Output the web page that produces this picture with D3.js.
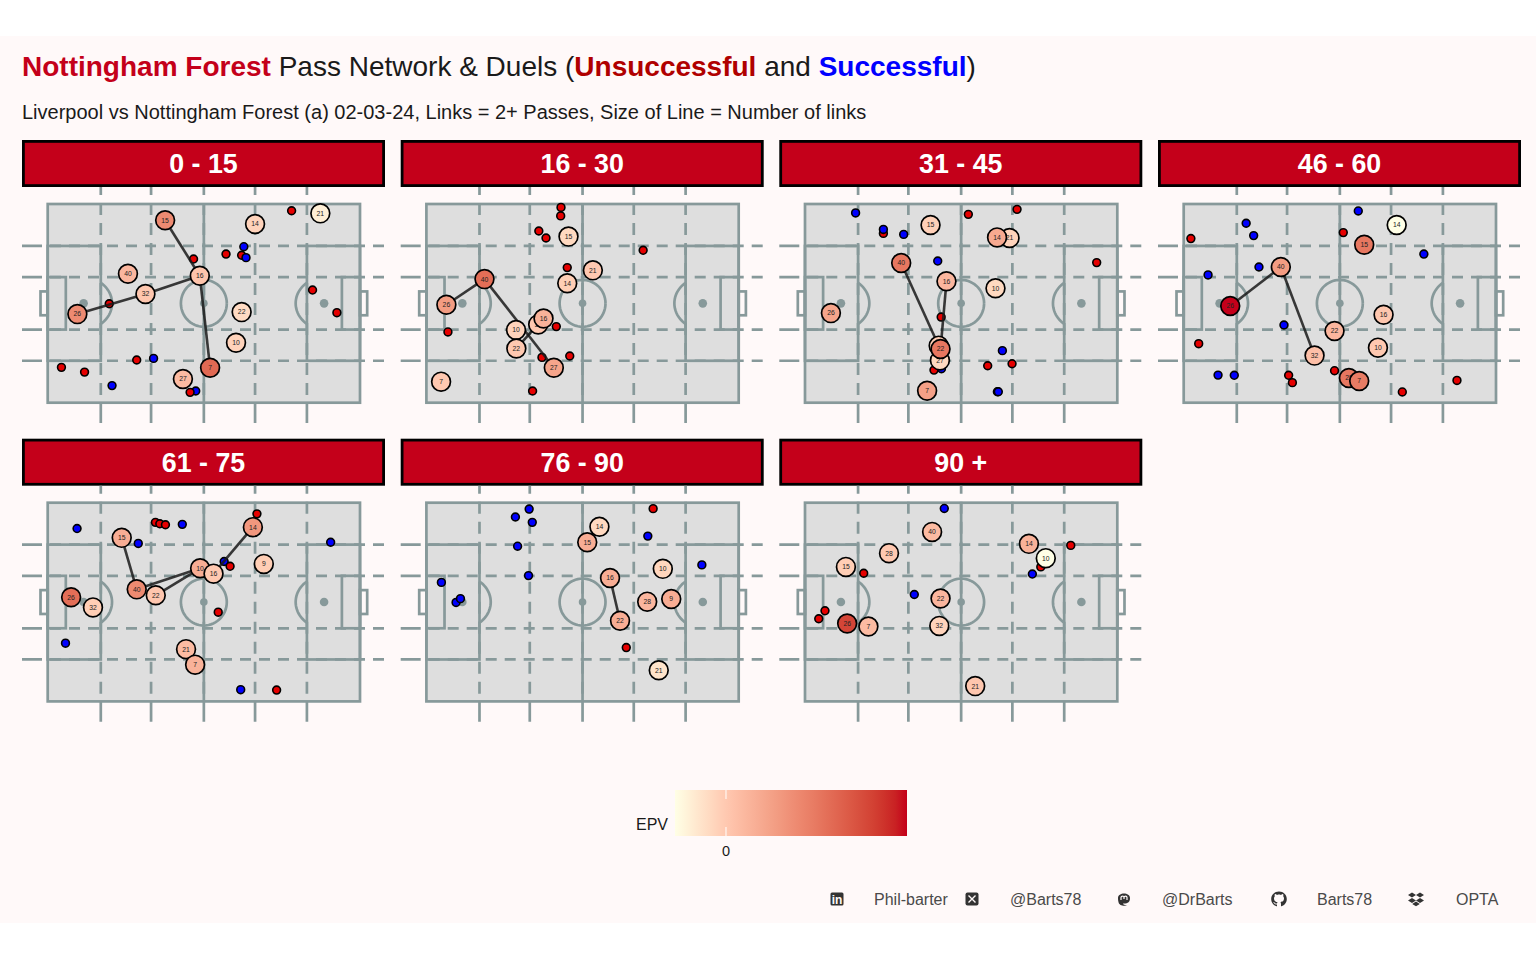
<!DOCTYPE html>
<html><head><meta charset="utf-8">
<script src="https://cdn.jsdelivr.net/npm/d3@7"></script>
<style>
html,body{margin:0;padding:0;background:#fff;}
svg{display:block;font-family:"Liberation Sans",Arial,sans-serif;}
</style></head><body>
<svg id="c" width="1536" height="960"></svg>
<script>
const panelLabels=["0 - 15","16 - 30","31 - 45","46 - 60","61 - 75","76 - 90","90 +"];
// players per window: [shirt, pitch x, pitch y, EPV]
const nodes0=[[15,37.6,91.8,.14],[14,66.4,89.9,-.02],[21,87.3,95.3,-.07],[40,25.7,64.9,.04],[32,31.3,54.7,.005],[16,48.7,63.9,.01],[26,9.5,44.6,.14],[22,62.1,45.6,-.035],[10,60.3,30.2,-.02],[7,52,17.6,.21],[27,43.3,11.9,.03]];
const nodes1=[[15,45.5,83.6,-.03],[21,53.3,66.6,0],[14,45.1,60.1,-.01],[40,18.6,62.2,.2],[26,6.4,49.3,.1],[32,35.8,39.4,0],[16,37.5,42.4,.05],[10,28.7,36.6,-.02],[22,28.8,27.3,0],[27,40.8,17.6,.08],[7,4.7,10.6,0]];
const nodes2=[[15,40.2,89.4,-.015],[21,65.5,82.9,-.02],[14,61.5,83.2,.07],[40,30.8,70.3,.18],[16,45.3,61.1,.04],[10,61,57.6,-.03],[26,8.3,45.1,.08],[27,43.2,21.3,-.03],[32,42.8,28.7,-.01],[22,43.4,27,.18],[7,39.1,6,.09]];
const nodes3=[[14,68.2,89.4,-.1],[15,57.8,79.5,.18],[40,31.1,68.3,.1],[26,14.9,48.7,.355],[16,64,44.3,.005],[22,48.3,36.1,.04],[10,62.2,27.7,0],[32,41.9,23.7,.02],[28,52.9,12.4,.18],[7,56.2,10.9,.17]];
const nodes4=[[15,23.7,82.3,.06],[14,65.7,87.7,.11],[9,69.2,69.2,-.01],[10,48.8,67,.06],[16,53.1,64.3,0],[40,28.5,56.4,.14],[22,34.6,53.4,.005],[26,7.5,52.4,.2],[32,14.5,47.3,-.01],[21,44.3,26.3,.03],[7,47.2,18.5,.05]];
const nodes5=[[14,55.4,87.9,-.03],[15,51.5,80.1,.06],[16,58.8,62.1,.06],[10,75.7,66.7,-.025],[28,70.7,50.2,.04],[9,78.4,51.5,.06],[22,62,40.6,.06],[21,74.4,15.7,-.05]];
const nodes6=[[40,40.7,85.3,.03],[28,26.9,74.6,0],[15,13.1,67.7,-.01],[14,71.7,79.3,.05],[10,77.1,72.1,-.1],[22,43.4,51.8,.04],[26,13.5,39.2,.28],[7,20.3,37.7,.03],[32,43,38,-.02],[21,54.5,7.7,.005]];
// pass links between shirt numbers
const links0=[[15,16],[16,32],[32,26],[16,7]];
const links1=[[40,26],[40,27],[22,16]];
const links2=[[40,32],[16,22]];
const links3=[[26,40],[40,32]];
const links4=[[15,40],[40,10],[22,10],[14,16]];
const links5=[[16,22]];
const links6=[];
// duels: [pitch x, pitch y, won 1 / lost 0]
const duels0=[[78.1,96.6,0],[46.7,72.3,0],[57.1,74.8,0],[62.8,78.5,1],[62.1,74.2,0],[63.5,73,1],[19.7,49.8,0],[84.8,56.7,0],[92.6,45.3,0],[4.4,17.8,0],[11.8,15.4,0],[28.5,21.5,0],[33.9,22.3,1],[20.6,8.6,1],[47.4,5.9,1],[45.6,5.2,0]];
const duels1=[[43.1,98.3,0],[43,94,0],[36,86.4,0],[38.3,82.9,0],[45.1,68,0],[69.4,76.7,0],[41.6,38.3,0],[6.9,35.6,0],[37,22.8,0],[45.9,23.5,0],[34,5.9,0]];
const duels2=[[16.2,95.5,1],[25.1,85.2,0],[25.1,87.2,1],[31.6,84.7,1],[42.5,71.3,1],[52.3,94.8,0],[67.9,97.3,0],[93.4,70.5,0],[43.6,43.1,0],[63.2,26.2,1],[66.3,19.6,0],[58.5,18.6,0],[43.7,17.1,1],[41.3,16.4,0],[61.6,5.5,0],[61.9,5.5,1]];
const duels3=[[55.9,96.5,1],[51.1,85.6,0],[20,90.3,1],[22.4,84.1,1],[2.3,82.6,0],[76.9,74.8,1],[24.1,68.3,1],[7.8,64.3,1],[32.1,39.1,1],[4.8,29.7,0],[11,13.9,1],[16.2,13.8,1],[33.6,13.8,0],[34.8,10.1,0],[48.3,16.1,0],[70,5.4,0],[87.5,11.2,0]];
const duels4=[[9.4,87,1],[34.5,90.1,0],[35.9,89.4,0],[37.7,88.9,0],[43.1,89.1,1],[29,79.5,1],[67,94.4,0],[90.6,80.1,1],[56.5,70.4,1],[58.4,68,0],[54.6,44.9,0],[5.7,29.3,1],[61.8,5.9,1],[73.3,5.7,0]];
const duels5=[[32.9,96.8,1],[28.5,92.8,1],[33.9,90.1,1],[29.2,78.1,1],[32.7,63.3,1],[4.8,59.9,1],[9.5,49.8,1],[10.9,51.7,1],[72.6,97,0],[70.9,83.2,1],[88.2,68.7,1],[64,27.1,0]];
const duels6=[[44.6,97.1,1],[85.1,78.5,0],[75.5,67.7,0],[18.8,64.5,0],[72.8,64.1,1],[35,53.8,1],[6.4,45.6,0],[4.4,41.6,0]];
const allNodes=[nodes0,nodes1,nodes2,nodes3,nodes4,nodes5,nodes6];
const allLinks=[links0,links1,links2,links3,links4,links5,links6];
const allDuels=[duels0,duels1,duels2,duels3,duels4,duels5,duels6];
const vGuides=[17,33.1,50,66.4,83], hGuides=[21.1,36.8,63.2,78.9];
const epvDomain=[-0.1,0,0.355], epvTicks=[0];
const epvColours=["#ffffe6","#ffc8b0","#c4001a"];

const RED="#c4001a", GREY="#87999a", BG="#fff9f9", PITCH="#dedede";
const LW=2.7;
const svg=d3.select("#c");
svg.append("rect").attr("x",0).attr("y",36).attr("width",1536).attr("height",887).attr("fill",BG);

// titles
const t=svg.append("text").attr("x",22).attr("y",76).attr("font-size",28).attr("fill","#1a1a1a");
t.append("tspan").attr("font-weight","bold").attr("fill",RED).text("Nottingham Forest");
t.append("tspan").text(" Pass Network & Duels (");
t.append("tspan").attr("font-weight","bold").attr("fill","#b00000").text("Unsuccessful");
t.append("tspan").text(" and ");
t.append("tspan").attr("font-weight","bold").attr("fill","#0000ff").text("Successful");
t.append("tspan").text(")");
svg.append("text").attr("x",22).attr("y",119).attr("font-size",20).attr("fill","#1a1a1a")
  .text("Liverpool vs Nottingham Forest (a) 02-03-24, Links = 2+ Passes, Size of Line = Number of links");

const colour=d3.scaleLinear().domain(epvDomain).range(epvColours).interpolate(d3.interpolateLab);
const colX=[22,400.7,779.3,1158], rowY=[140,438.7];
const PW=363, STRIP=47, PH=236;
const rep=(first,d,g)=>[first,g].concat(d3.range(30).flatMap(()=>[d,g])).join(" ");

panelLabels.forEach((lab,i)=>{
  const px=colX[i%4], py=rowY[Math.floor(i/4)];
  const g=svg.append("g").attr("transform",`translate(${px},${py})`);
  g.append("rect").attr("x",1.4).attr("y",1.4).attr("width",PW-2.8).attr("height",STRIP-2.8).attr("fill",RED).attr("stroke","#000").attr("stroke-width",2.8);
  g.append("text").attr("x",PW/2).attr("y",STRIP/2+9.5).attr("text-anchor","middle").attr("font-size",26.8).attr("font-weight","bold").attr("fill","#fff").text(lab);
  const x=d3.scaleLinear().domain([0,100]).range([25.7,338]);
  const y=d3.scaleLinear().domain([0,100]).range([STRIP+215.7,STRIP+17]);
  const p=g.append("g");
  const rect=(x0,x1,y0,y1,fill)=>p.append("rect").attr("x",x(x0)).attr("y",y(y1)).attr("width",x(x1)-x(x0)).attr("height",y(y0)-y(y1))
    .attr("fill",fill||"none").attr("stroke",GREY).attr("stroke-width",LW);
  rect(0,100,0,100,PITCH);
  vGuides.forEach(v=>p.append("line").attr("x1",x(v)).attr("x2",x(v)).attr("y1",STRIP+PH).attr("y2",STRIP).attr("stroke",GREY).attr("stroke-width",LW).attr("stroke-dasharray",rep(20,12,8)));
  hGuides.forEach(v=>p.append("line").attr("x1",0).attr("x2",PW).attr("y1",y(v)).attr("y2",y(v)).attr("stroke",GREY).attr("stroke-width",LW).attr("stroke-dasharray",rep(20,11,8)));
  rect(0,17,21.1,78.9); rect(83,100,21.1,78.9);
  rect(0,5.8,36.8,63.2); rect(94.2,100,36.8,63.2);
  rect(-2.3,0,44,56); rect(100,102.3,44,56);
  p.append("line").attr("x1",x(50)).attr("x2",x(50)).attr("y1",y(0)).attr("y2",y(100)).attr("stroke",GREY).attr("stroke-width",LW);
  const arcLine=d3.line().x(d=>x(d[0])).y(d=>y(d[1]));
  const circ=d3.range(0,361,6).map(a=>[50+7.35*Math.cos(a*Math.PI/180),50+11.8*Math.sin(a*Math.PI/180)]);
  p.append("path").attr("d",arcLine(circ)).attr("fill","none").attr("stroke",GREY).attr("stroke-width",LW);
  [[11.5,1,17],[88.5,-1,83]].forEach(([sx,dir,edge])=>{
    const a0=Math.acos(5.5/9.1), pts=d3.range(-a0,a0+0.001,(2*a0)/24).map(a=>[sx+dir*9.1*Math.cos(a),50+13*Math.sin(a)]);
    p.append("path").attr("d",arcLine(pts)).attr("fill","none").attr("stroke",GREY).attr("stroke-width",LW);
  });
  [11.5,50,88.5].forEach(s=>p.append("circle").attr("cx",x(s)).attr("cy",y(50)).attr("r",s==50?3.8:4.3).attr("fill",GREY));
  // duels
  g.append("g").selectAll("circle").data(allDuels[i]).join("circle")
    .attr("cx",d=>x(d[0])).attr("cy",d=>y(d[1])).attr("r",3.9)
    .attr("fill",d=>d[2]?"#0000ff":"#e60000").attr("stroke","#000").attr("stroke-width",1.6);
  // links
  const byNo=new Map(allNodes[i].map(n=>[n[0],n]));
  g.append("g").selectAll("line").data(allLinks[i]).join("line")
    .attr("x1",d=>x(byNo.get(d[0])[1])).attr("y1",d=>y(byNo.get(d[0])[2]))
    .attr("x2",d=>x(byNo.get(d[1])[1])).attr("y2",d=>y(byNo.get(d[1])[2]))
    .attr("stroke","#1a1a1a").attr("stroke-opacity",.85).attr("stroke-width",2.6);
  // players
  const ng=g.append("g").selectAll("g").data(allNodes[i]).join("g")
    .attr("transform",d=>`translate(${x(d[1])},${y(d[2])})`);
  ng.append("circle").attr("r",9.4).attr("fill",d=>colour(d[3])).attr("stroke","#000").attr("stroke-width",1.7);
  ng.append("text").attr("text-anchor","middle").attr("y",2.4).attr("font-size",6.8).attr("fill","#222").text(d=>d[0]);
});

// legend
const lx=d3.scaleLinear().domain([epvDomain[0],epvDomain[2]]).range([675,907]);
const defs=svg.append("defs");
const grad=defs.append("linearGradient").attr("id","epv");
d3.range(0,1.0001,.05).forEach(f=>{
  const v=epvDomain[0]+f*(epvDomain[2]-epvDomain[0]);
  grad.append("stop").attr("offset",f).attr("stop-color",colour(v));
});
svg.append("rect").attr("x",lx.range()[0]).attr("y",790).attr("width",232).attr("height",46).attr("fill","url(#epv)");
epvTicks.forEach(v=>{
  svg.append("line").attr("x1",lx(v)).attr("x2",lx(v)).attr("y1",790).attr("y2",799).attr("stroke","#fff").attr("stroke-width",1);
  svg.append("line").attr("x1",lx(v)).attr("x2",lx(v)).attr("y1",827).attr("y2",836).attr("stroke","#fff").attr("stroke-width",1);
  svg.append("text").attr("x",lx(v)).attr("y",856).attr("text-anchor","middle").attr("font-size",14.5).attr("fill","#1a1a1a").text(v);
});
svg.append("text").attr("x",636).attr("y",830).attr("font-size",16).attr("fill","#1a1a1a").text("EPV");

// footer
const footerItems=[["in",837,"Phil-barter",874],["x",972,"@Barts78",1010],["m",1124,"@DrBarts",1162],["gh",1279,"Barts78",1317],["db",1416,"OPTA",1456]];
const DARK="#333";
const f=svg.append("g");
footerItems.forEach(([k,ix,lab,tx])=>{
  f.append("text").attr("x",tx).attr("y",905).attr("font-size",16).attr("fill","#4a4a4a").text(lab);
  const ic=f.append("g").attr("transform",`translate(${ix},899)`);
  if(k==="in"){
    ic.append("rect").attr("x",-6.5).attr("y",-6.5).attr("width",13).attr("height",13).attr("rx",1.5).attr("fill",DARK);
    ic.append("text").attr("y",4.6).attr("text-anchor","middle").attr("font-size",12).attr("font-weight","bold").attr("fill","#fff9f9").text("in");
  } else if(k==="x"){
    ic.append("rect").attr("x",-6.5).attr("y",-6.5).attr("width",13).attr("height",13).attr("rx",2).attr("fill",DARK);
    ic.append("path").attr("d","M-3.5,-3.5L3.5,3.5M3.5,-3.5L-3.5,3.5").attr("stroke","#fff9f9").attr("stroke-width",1.4);
  } else if(k==="m"){
    ic.append("path").attr("d","M-6,-1C-6,-7 6,-7 6,-1C6,3 4,4.5 0,4.5L-1,4.5C-1,6 2,6.5 4,6C1,7.5 -5,7 -5.5,3C-5.9,1.5 -6,0 -6,-1Z").attr("fill",DARK);
    ic.append("path").attr("d","M-3,1V-1.6C-3,-3.4 0,-3.4 0,-1.6V0M0,-1.6C0,-3.4 3,-3.4 3,-1.6V1").attr("fill","none").attr("stroke","#fff9f9").attr("stroke-width",1.2);
  } else if(k==="gh"){
    ic.append("path").attr("d","M0,-7.5C-4.4,-7.5 -7.8,-4.2 -7.8,0C-7.8,3.4 -5.6,6.3 -2.5,7.3C-2.1,7.4 -2,7.1 -2,6.9V5.5C-4.2,6 -4.6,4.6 -4.6,4.6C-5,3.7 -5.5,3.4 -5.5,3.4C-6.2,2.9 -5.4,2.9 -5.4,2.9C-4.6,3 -4.2,3.7 -4.2,3.7C-3.5,4.9 -2.4,4.6 -1.9,4.3C-1.9,3.8 -1.7,3.4 -1.4,3.2C-3.2,3 -5,2.3 -5,-0.7C-5,-1.6 -4.7,-2.3 -4.2,-2.8C-4.3,-3 -4.6,-3.8 -4.1,-4.9C-4.1,-4.9 -3.4,-5.1 -1.9,-4.1C-0.7,-4.5 0.7,-4.5 1.9,-4.1C3.4,-5.1 4.1,-4.9 4.1,-4.9C4.6,-3.8 4.3,-3 4.2,-2.8C4.7,-2.3 5,-1.6 5,-0.7C5,2.3 3.2,3 1.4,3.2C1.7,3.5 2,4 2,4.7V6.9C2,7.1 2.1,7.4 2.5,7.3C5.6,6.3 7.8,3.4 7.8,0C7.8,-4.2 4.4,-7.5 0,-7.5Z").attr("fill",DARK);
  } else {
    ic.append("path").attr("d","M-4,-6.5L0,-4L-4,-1.5L-8,-4ZM4,-6.5L8,-4L4,-1.5L0,-4ZM-4,-1L0,1.5L-4,4L-8,1.5ZM4,-1L8,1.5L4,4L0,1.5ZM0,2.5L3.8,5L0,7.2L-3.8,5Z").attr("fill",DARK);
  }
});
</script></body></html>
